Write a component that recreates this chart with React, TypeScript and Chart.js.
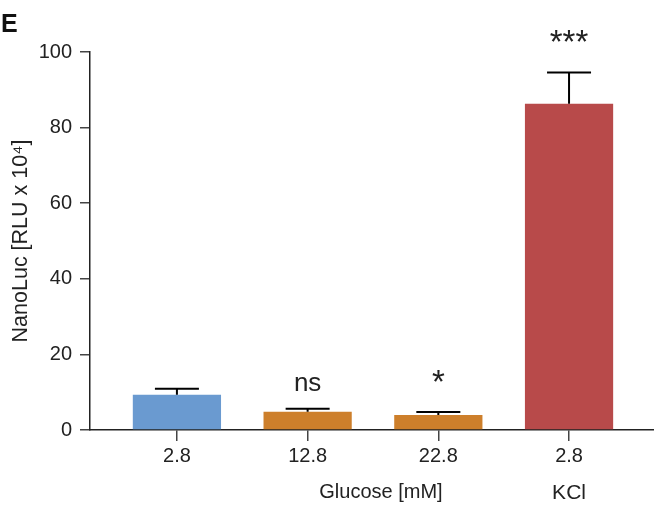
import React, { useEffect, useRef } from "react";
import { Chart, registerables } from "chart.js";

Chart.register(...registerables);

// Category tick labels (glucose / KCl concentration in mM)
const xLabels = ["2.8", "12.8", "22.8", "2.8"];
// NanoLuc signal, RLU x 10^4
const means = [9.3, 4.8, 4.0, 86.3];
// Upper error (SEM)
const errors = [1.6, 0.8, 0.75, 8.3];
// Significance markers above each bar
const significance = ["", "ns", "*", "***"];
const barColors = ["#6A9AD0", "#CD7F2B", "#CD7F2B", "#B84A4A"];

const FONT = "'Liberation Sans', Arial, Helvetica, sans-serif";
const INK = "#222222";

const errorBarPlugin = {
  id: "errorBars",
  afterDatasetsDraw(chart: any) {
    const { ctx, scales } = chart;
    const meta = chart.getDatasetMeta(0);
    ctx.save();
    ctx.strokeStyle = "#000";
    ctx.lineWidth = 2;
    meta.data.forEach((bar: any, i: number) => {
      const x = bar.x;
      const yTop = scales.y.getPixelForValue(means[i]);
      const yErr = scales.y.getPixelForValue(means[i] + errors[i]);
      ctx.beginPath();
      ctx.moveTo(x, yTop);
      ctx.lineTo(x, yErr);
      ctx.moveTo(x - 22, yErr);
      ctx.lineTo(x + 22, yErr);
      ctx.stroke();
    });
    ctx.restore();
  },
};

const textPlugin = {
  id: "extraText",
  afterDraw(chart: any) {
    const { ctx, scales } = chart;
    const meta = chart.getDatasetMeta(0);
    ctx.save();
    ctx.fillStyle = INK;
    ctx.textAlign = "center";
    ctx.textBaseline = "alphabetic";
    // significance markers
    meta.data.forEach((bar: any, i: number) => {
      const s = significance[i];
      if (!s) return;
      const yErr = scales.y.getPixelForValue(means[i] + errors[i]);
      if (s === "ns") {
        ctx.font = `26px ${FONT}`;
        ctx.fillText(s, bar.x, yErr - 18);
      } else {
        ctx.font = `33px ${FONT}`;
        ctx.fillText(s, bar.x, yErr - 19);
      }
    });
    // group labels
    ctx.font = `20px ${FONT}`;
    ctx.fillText("Glucose [mM]", scales.x.getPixelForValue(1.5) + 8, 498);
    ctx.font = `21px ${FONT}`;
    ctx.fillText("KCl", scales.x.getPixelForValue(3), 499);
    // panel letter
    ctx.textAlign = "left";
    ctx.font = `bold 25px ${FONT}`;
    ctx.fillStyle = "#111";
    ctx.fillText("E", 1, 32);
    ctx.restore();
  },
};

export default function App() {
  const canvasRef = useRef<HTMLCanvasElement | null>(null);

  useEffect(() => {
    if (!canvasRef.current) return;
    const chart = new Chart(canvasRef.current, {
      type: "bar",
      data: {
        datasets: [
          {
            data: means.map((v, i) => ({ x: i, y: v })),
            backgroundColor: barColors,
            borderWidth: 0,
            barPercentage: 0.675,
            categoryPercentage: 1,
          },
        ],
      },
      options: {
        responsive: false,
        animation: false,
        devicePixelRatio: 1,
        layout: { padding: { top: 52, left: 0, right: 0, bottom: 0 } },
        plugins: { legend: { display: false }, tooltip: { enabled: false } },
        scales: {
          x: {
            type: "linear",
            offset: false,
            min: -0.665,
            max: 3.65,
            afterFit: (scale: any) => {
              scale.height = 80;
            },
            afterBuildTicks: (scale: any) => {
              scale.ticks = xLabels.map((_, i) => ({ value: i }));
            },
            grid: {
              offset: false,
              drawOnChartArea: false,
              drawTicks: true,
              tickLength: 11,
              color: "#444",
              lineWidth: 1.5,
            },
            border: { display: true, color: INK, width: 1.5 },
            ticks: {
              color: INK,
              font: { family: FONT, size: 20 },
              padding: 3,
              maxRotation: 0,
              callback: (v: any) => xLabels[v as number] ?? "",
            },
          },
          y: {
            min: 0,
            max: 100,
            afterFit: (scale: any) => {
              scale.width = 90;
            },
            grid: {
              drawOnChartArea: false,
              drawTicks: true,
              tickLength: 10,
              color: "#444",
              lineWidth: 1.5,
            },
            border: { display: true, color: INK, width: 1.5 },
            ticks: {
              stepSize: 20,
              color: INK,
              font: { family: FONT, size: 20 },
              padding: 8,
            },
            title: {
              display: true,
              text: "NanoLuc [RLU x 10⁴]",
              color: INK,
              font: { family: FONT, size: 21.5 },
              padding: { top: 8, bottom: 0 },
            },
          },
        },
      },
      plugins: [errorBarPlugin, textPlugin],
    });
    return () => chart.destroy();
  }, []);

  return (
    <div style={{ position: "fixed", left: 0, top: 0, width: 654, height: 510, background: "#fff" }}>
      <canvas ref={canvasRef} width={654} height={510} />
    </div>
  );
}
